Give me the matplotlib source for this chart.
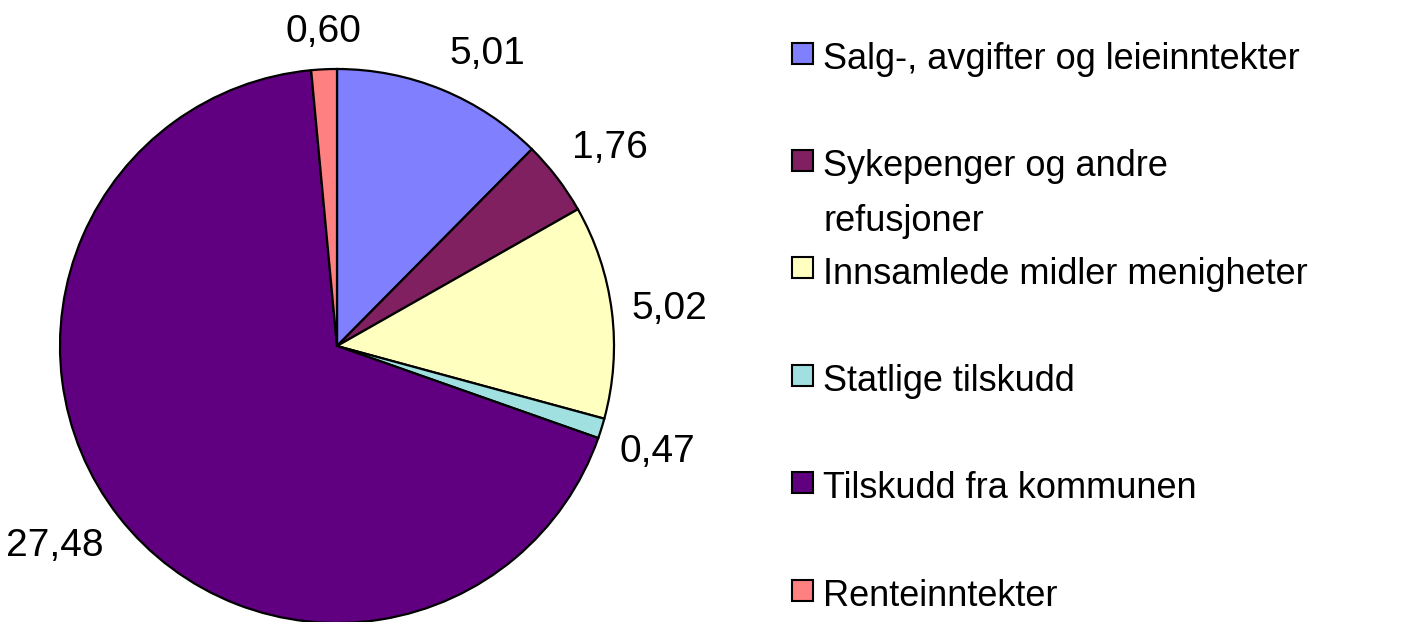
import numpy as np
import matplotlib
matplotlib.use("Agg")
import matplotlib.pyplot as plt
from matplotlib.patches import Rectangle

categories = ["Salg-, avgifter og leieinntekter", "Sykepenger og andre\nrefusjoner",
              "Innsamlede midler menigheter", "Statlige tilskudd",
              "Tilskudd fra kommunen", "Renteinntekter"]
values = [5.01, 1.76, 5.02, 0.47, 27.48, 0.60]
value_labels = ["5,01", "1,76", "5,02", "0,47", "27,48", "0,60"]
colors = ["#8080FF", "#802060", "#FFFFC0", "#A0E0E0", "#600080", "#FF8080"]

plt.rcParams['font.family'] = ['Liberation Sans', 'DejaVu Sans']

W, H = 1406, 622
fig = plt.figure(figsize=(W / 100, H / 100), dpi=100)
fig.patch.set_facecolor("white")

cx, cy, R = 337, 346, 277
ax = fig.add_axes([(cx - R) / W, (H - cy - R) / H, 2 * R / W, 2 * R / H])

wedges, _ = ax.pie(values, colors=colors, startangle=90, counterclock=False, radius=1,
                   wedgeprops=dict(edgecolor="black", linewidth=1.6))
ax.set_xlim(-1, 1)
ax.set_ylim(-1, 1)
ax.set_aspect("equal")
ax.axis("off")
for w in wedges:
    w.set_clip_on(False)

d = 1.07
for w, lab in zip(wedges, value_labels):
    ang = np.deg2rad((w.theta1 + w.theta2) / 2)
    c, s = np.cos(ang), np.sin(ang)
    ha = "left" if c > 0.3 else ("right" if c < -0.3 else "center")
    va = "bottom" if s > 0.3 else ("top" if s < -0.2 else "center")
    ax.text(d * c, d * s, lab, ha=ha, va=va, fontsize=28, clip_on=False)

# manual legend (Excel-style)
y0, dy = 53, 107.4
for i, (cat, col) in enumerate(zip(categories, colors)):
    yc = y0 + dy * i
    fig.patches.append(Rectangle(((792) / W, (H - yc - 10.5) / H), 21 / W, 21 / H,
                                 transform=fig.transFigure, facecolor=col,
                                 edgecolor="black", linewidth=1.5))
    fig.text(823 / W, (H - yc + 11.3) / H, cat, ha="left", va="top",
             fontsize=26, linespacing=1.75)

fig.savefig("out.png", dpi=100)
